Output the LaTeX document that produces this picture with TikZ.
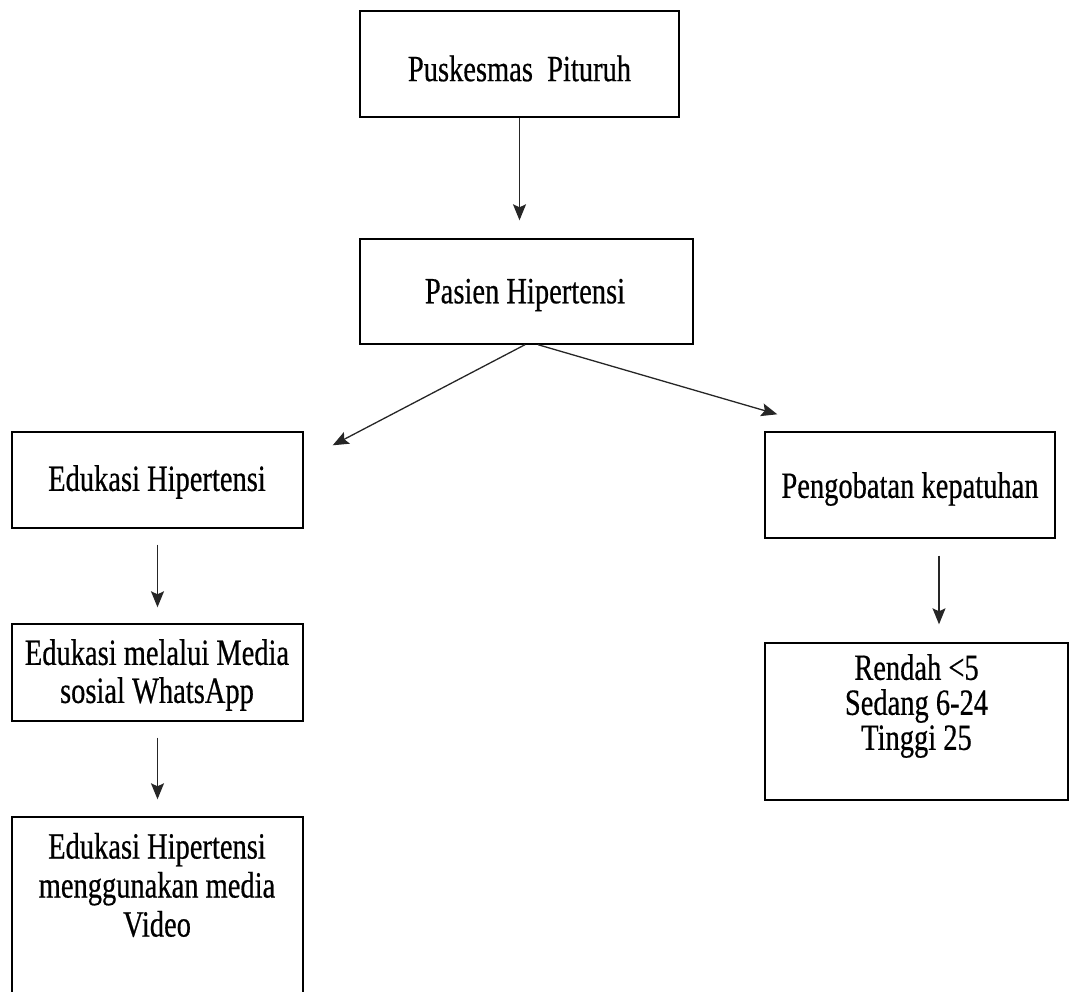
\documentclass[tikz,border=0pt]{standalone}
\usepackage{fontspec}
\setmainfont{Liberation Serif}[FakeStretch=0.77,FakeBold=0.5]
\usetikzlibrary{arrows.meta}
\begin{document}
\begin{tikzpicture}[x=1pt,y=-1pt,
  box/.style={draw=black, line width=1.4pt, inner sep=0pt, rectangle},
  txt/.style={inner sep=0pt, align=center, font=\fontsize{37}{39}\selectfont},
  arr/.style={draw=black!85, line width=1.3pt, -{Stealth[length=16pt,width=13pt,inset=3pt]}}]
\useasboundingbox (0,0) rectangle (1075,992);
\begin{scope}
\clip (0,0) rectangle (1075,992);
% boxes
\node[box, minimum width=319pt, minimum height=106pt] (b1) at (519.5,64) {};
\node[box, minimum width=333pt, minimum height=105pt] (b2) at (526.5,291.5) {};
\node[box, minimum width=291pt, minimum height=96pt] (b3) at (157.5,480) {};
\node[box, minimum width=290pt, minimum height=106pt] (b4) at (910,485) {};
\node[box, minimum width=291pt, minimum height=97pt] (b5) at (157.5,672.5) {};
\node[box, minimum width=291pt, minimum height=190pt] (b6) at (157.5,912) {};
\node[box, minimum width=303pt, minimum height=157pt] (b7) at (916.5,721.5) {};
\end{scope}
% texts
\node[txt] (t1) at (519.5,68.5) {Puskesmas\ \ Pituruh};
\node[txt] (t2) at (525,295) {Pasien Hipertensi};
\node[txt] (t3) at (157,482) {Edukasi Hipertensi};
\node[txt] (t4) at (910,489) {Pengobatan kepatuhan};
\node[txt, font=\fontsize{37}{38}\selectfont] (t5) at (157,675) {Edukasi melalui Media\\sosial WhatsApp};
\node[txt] (t6) at (157,885) {Edukasi Hipertensi\\menggunakan media\\Video};
\node[txt, font=\fontsize{37}{35}\selectfont] (t7) at (916.5,706) {Rendah <5\\Sedang 6-24\\Tinggi 25};
% connector end points
\coordinate (e3) at ([xshift=29pt,yshift=-14pt]b3.north east);
\coordinate (e4) at ([xshift=13pt,yshift=17pt]b4.north west);
% connectors
\draw[arr, shorten >=18pt] (b1.south) -- (b1.south |- b2.north);
\draw[arr] ([xshift=-1.5pt]b2.south) -- (e3);
\draw[arr] ([xshift=11.5pt]b2.south) -- (e4);
\draw[arr, shorten <=16pt, shorten >=16pt] (b3.south) -- (b3.south |- b5.north);
\draw[arr, shorten <=16pt, shorten >=17pt] (b5.south) -- (b5.south |- b6.north);
\draw[arr, shorten <=17pt, shorten >=18pt] ([xshift=29pt]b4.south) -- ([xshift=29pt]b4.south |- b7.north);
\end{tikzpicture}
\end{document}
